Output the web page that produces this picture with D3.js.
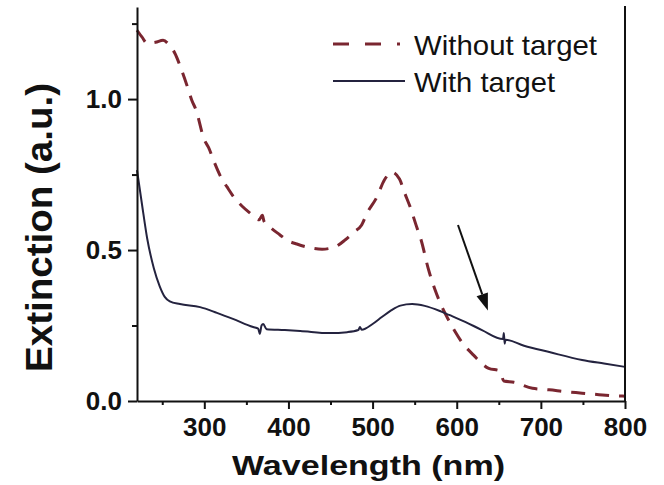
<!DOCTYPE html>
<html>
<head>
<meta charset="utf-8">
<script src="https://cdn.jsdelivr.net/npm/d3@7.9.0/dist/d3.min.js"></script>
<style>
  html, body { margin: 0; padding: 0; background: #fff; }
  svg { display: block; font-family: "Liberation Sans", Arial, sans-serif; }
</style>
</head>
<body>
<svg id="chart" width="664" height="485"></svg>
<script>
// spectrum without target (dashed)
const withoutWl  = [220, 226, 232, 242, 251, 258, 265, 273, 280, 285, 290, 300, 305, 312, 320, 327, 336, 345, 354, 365, 369, 371, 378, 390, 398, 410, 425, 440, 455, 468, 478, 487, 493, 505, 514, 523, 532, 538, 545, 552, 558, 566, 574, 582, 590, 598, 606, 620, 638, 651, 656, 668, 690, 710, 729, 749, 769, 788, 800];
const withoutExt = [1.228, 1.205, 1.185, 1.188, 1.195, 1.18, 1.152, 1.096, 1.04, 0.997, 0.965, 0.865, 0.84, 0.79, 0.74, 0.709, 0.672, 0.645, 0.623, 0.60, 0.615, 0.595, 0.576, 0.55, 0.533, 0.52, 0.508, 0.503, 0.51, 0.535, 0.56, 0.583, 0.62, 0.675, 0.732, 0.758, 0.735, 0.69, 0.64, 0.58, 0.53, 0.44, 0.37, 0.315, 0.27, 0.23, 0.195, 0.152, 0.108, 0.10, 0.066, 0.062, 0.042, 0.037, 0.031, 0.026, 0.021, 0.017, 0.016];

// spectrum with target (solid)
const withWl  = [220, 226, 232, 240, 247, 253, 259, 271, 295, 315, 334, 358, 364, 366, 368, 370, 374, 395, 414, 449, 470, 483, 485, 487, 500, 511, 522, 533, 547, 562, 580, 591, 610, 630, 655, 656, 657, 658, 680, 710, 749, 775, 800];
const withExt = [0.765, 0.65, 0.54, 0.44, 0.38, 0.345, 0.33, 0.321, 0.311, 0.292, 0.272, 0.245, 0.24, 0.222, 0.25, 0.255, 0.238, 0.235, 0.232, 0.225, 0.228, 0.235, 0.245, 0.236, 0.255, 0.278, 0.30, 0.316, 0.321, 0.315, 0.298, 0.285, 0.262, 0.235, 0.205, 0.225, 0.19, 0.203, 0.183, 0.162, 0.136, 0.124, 0.113];

const xTicks = [300, 400, 500, 600, 700, 800];
const xMinor = [250, 350, 450, 550, 650, 750];
const yTicks = [0.0, 0.5, 1.0];
const yMinor = [0.25, 0.75, 1.25];

const seriesNames = ["Without target", "With target"];
// arrow annotation: start and tip, in data units
const arrowWl  = [601.5, 637];
const arrowExt = [0.583, 0.30];

const svg = d3.select("#chart");

const x = d3.scaleLinear().domain([220, 800]).range([137, 625]);
const y = d3.scaleLinear().domain([0, 1.305]).range([401, 7]);

const line = d3.line()
  .x(d => x(d[0]))
  .y(d => y(d[1]))
  .curve(d3.curveMonotoneX);

// curves
svg.append("path")
  .datum(d3.zip(withoutWl, withoutExt))
  .attr("d", line)
  .attr("fill", "none")
  .attr("stroke", "#7a2630")
  .attr("stroke-width", 3)
  .attr("stroke-dasharray", "14,10");

svg.append("path")
  .datum(d3.zip(withWl, withExt))
  .attr("d", line)
  .attr("fill", "none")
  .attr("stroke", "#24233f")
  .attr("stroke-width", 2);

// axes
svg.append("g")
  .attr("transform", `translate(0,${y(0)})`)
  .call(d3.axisBottom(x).tickValues(xTicks).tickSize(8).tickSizeOuter(0).tickPadding(9).tickFormat(d3.format("d")));

svg.append("g")
  .attr("transform", `translate(0,${y(0)})`)
  .call(d3.axisBottom(x).tickValues(xMinor).tickSize(4).tickSizeOuter(0).tickFormat(""))
  .select(".domain").remove();

svg.append("g")
  .attr("transform", `translate(${x(220)},0)`)
  .call(d3.axisLeft(y).tickValues(yTicks).tickSize(9).tickSizeOuter(0).tickPadding(6).tickFormat(d3.format(".1f")));

svg.append("g")
  .attr("transform", `translate(${x(220)},0)`)
  .call(d3.axisLeft(y).tickValues(yMinor).tickSize(5).tickSizeOuter(0).tickFormat(""))
  .select(".domain").remove();

// right frame line
svg.append("line")
  .attr("x1", x(800)).attr("x2", x(800))
  .attr("y1", 6).attr("y2", y(0))
  .attr("stroke", "#111").attr("stroke-width", 2);

svg.selectAll(".domain, .tick line").attr("stroke", "#111").attr("stroke-width", 2);
svg.selectAll(".tick text")
  .attr("fill", "#111")
  .style("font-family", "'Liberation Sans', Arial, sans-serif")
  .style("font-size", "26px")
  .style("font-weight", "bold");

// axis titles
svg.append("text")
  .attr("x", 368.5).attr("y", 475)
  .attr("text-anchor", "middle")
  .attr("textLength", 273).attr("lengthAdjust", "spacingAndGlyphs")
  .style("font-size", "28px").style("font-weight", "bold").attr("fill", "#111")
  .text("Wavelength (nm)");

svg.append("text")
  .attr("transform", "translate(52,227.5) rotate(-90)")
  .attr("text-anchor", "middle")
  .attr("textLength", 289).attr("lengthAdjust", "spacingAndGlyphs")
  .style("font-size", "36px").style("font-weight", "bold").attr("fill", "#111")
  .text("Extinction (a.u.)");

// legend
const legend = svg.append("g");
legend.append("line")
  .attr("x1", 333).attr("x2", 400).attr("y1", 44).attr("y2", 44)
  .attr("stroke", "#7a2630").attr("stroke-width", 3)
  .attr("stroke-dasharray", "16,16");
legend.append("line")
  .attr("x1", 333).attr("x2", 405).attr("y1", 81).attr("y2", 81)
  .attr("stroke", "#24233f").attr("stroke-width", 2);
legend.append("text")
  .attr("x", 414).attr("y", 55)
  .attr("textLength", 183).attr("lengthAdjust", "spacingAndGlyphs")
  .style("font-size", "28px").attr("fill", "#111")
  .text(seriesNames[0]);
legend.append("text")
  .attr("x", 414).attr("y", 92)
  .attr("textLength", 141).attr("lengthAdjust", "spacingAndGlyphs")
  .style("font-size", "28px").attr("fill", "#111")
  .text(seriesNames[1]);

// arrow
const ax0 = x(arrowWl[0]), ay0 = y(arrowExt[0]);
const ax1 = x(arrowWl[1]), ay1 = y(arrowExt[1]);
const ang = Math.atan2(ay1 - ay0, ax1 - ax0);
const headLen = 17, headW = 6;
const bx = ax1 - headLen * Math.cos(ang), by = ay1 - headLen * Math.sin(ang);
svg.append("line")
  .attr("x1", ax0).attr("y1", ay0).attr("x2", bx).attr("y2", by)
  .attr("stroke", "#111").attr("stroke-width", 2);
svg.append("path")
  .attr("d", `M${ax1},${ay1}L${bx + headW * Math.sin(ang)},${by - headW * Math.cos(ang)}L${bx - headW * Math.sin(ang)},${by + headW * Math.cos(ang)}Z`)
  .attr("fill", "#111");
</script>
</body>
</html>
